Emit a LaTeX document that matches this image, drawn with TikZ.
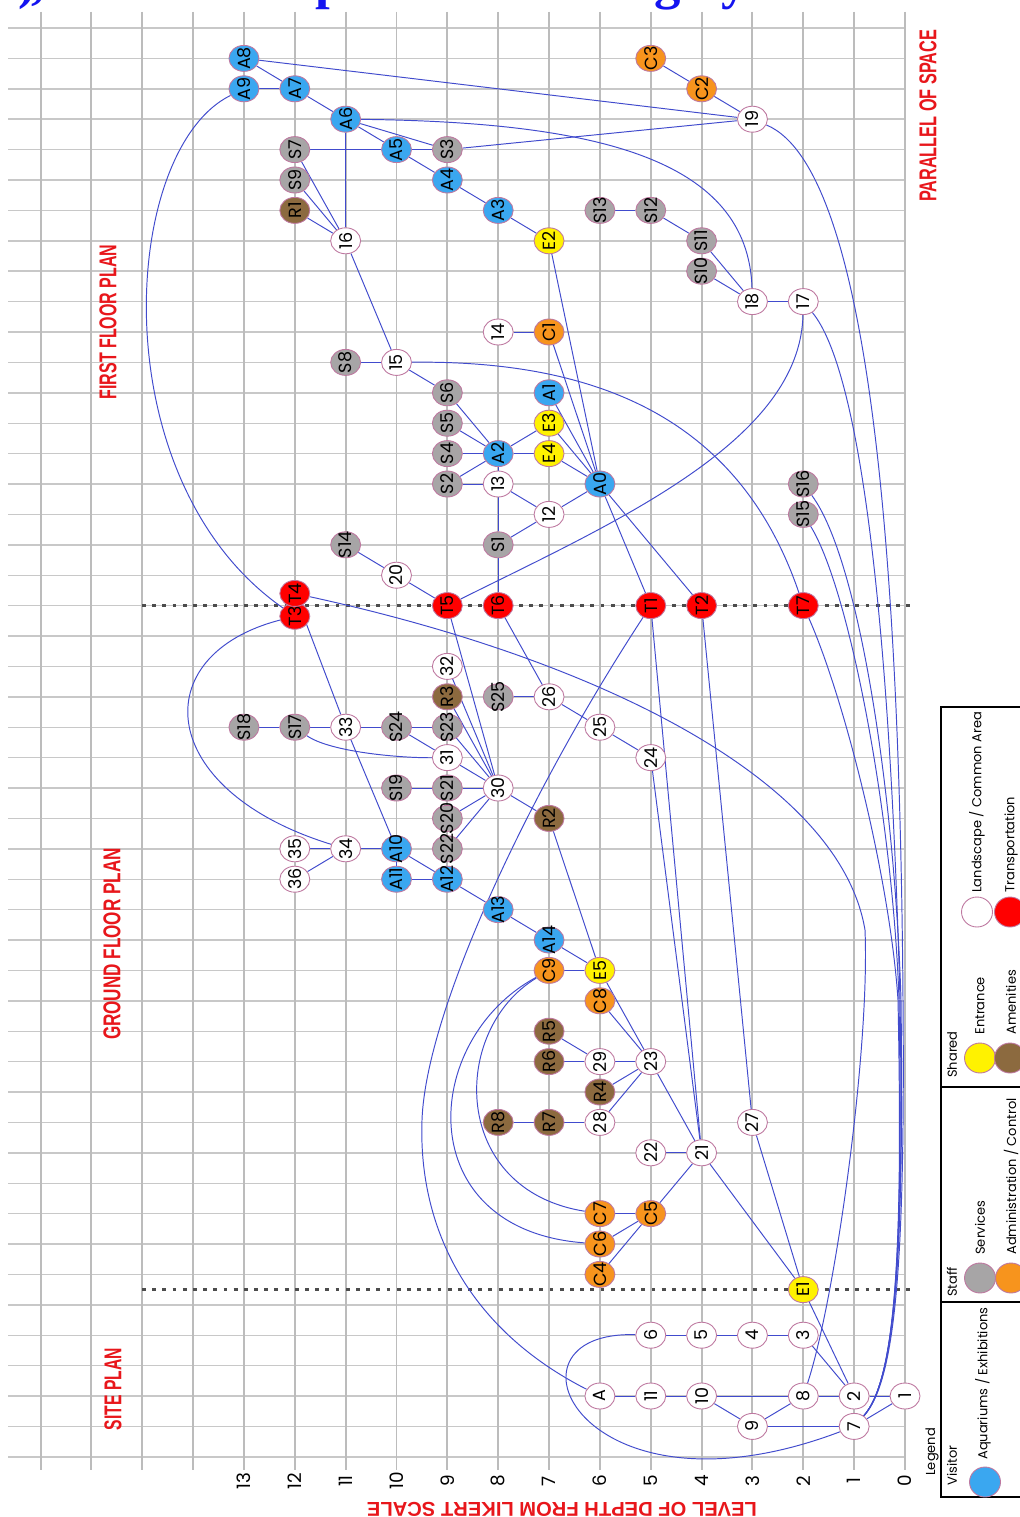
\documentclass[tikz,border=0pt]{standalone}
\usepackage{fontspec}
\usepackage{graphicx}
\setmainfont{Poppins}
\newfontfamily\headfont{Liberation Sans}
\newfontfamily\titlefont{Liberation Serif}
\usetikzlibrary{shapes.geometric}
\definecolor{edgeblue}{RGB}{65,75,205}
\definecolor{cblue}{RGB}{58,167,240}
\definecolor{cgray}{RGB}{167,165,166}
\definecolor{cbrown}{RGB}{140,106,63}
\definecolor{corange}{RGB}{247,148,29}
\definecolor{cyellow}{RGB}{255,242,0}
\definecolor{cred}{RGB}{255,0,0}
\definecolor{ndborder}{RGB}{190,120,160}
\definecolor{gridgray}{RGB}{200,200,200}
\definecolor{vgridgray}{RGB}{188,188,188}
\definecolor{titlered}{RGB}{232,22,27}
\definecolor{titleblue}{RGB}{20,20,240}
\pgfdeclarelayer{gridlayer}
\pgfdeclarelayer{edgelayer}
\pgfsetlayers{gridlayer,edgelayer,main}
\newcommand{\mknode}[5]{\node[#1] (#2) at ({905-50.85*(#3)},{28+30.4*(#4)}) {}; \node[lbl] at (#2) {#5};}
\begin{document}
\begin{tikzpicture}[x=0.02cm,y=-0.02cm,
  nd/.style={ellipse, minimum width=0.6cm, minimum height=0.52cm, inner sep=0pt, draw=ndborder, line width=0.5pt},
  vis/.style={nd, fill=cblue},
  srv/.style={nd, fill=cgray},
  adm/.style={nd, fill=corange},
  ent/.style={nd, fill=cyellow},
  ame/.style={nd, fill=cbrown},
  lnd/.style={nd, fill=white},
  trn/.style={nd, fill=cred},
  lbl/.style={rotate=90, font=\fontsize{10}{10}\selectfont, inner sep=0pt},
  edge/.style={draw=edgeblue, line width=0.55pt},
  hgrid/.style={draw=gridgray, line width=0.8pt},
  vgrid/.style={draw=vgridgray, line width=1.1pt},
  sep/.style={draw=black!70, line width=1.3pt, dash pattern=on 2.2pt off 3.6pt},
  redtitle/.style={rotate=90, text=titlered, inner sep=0pt},
  legtext/.style={rotate=90, anchor=west, font=\fontsize{7.4}{7.4}\selectfont, inner sep=0pt},
  legcirc/.style={ellipse, minimum width=0.62cm, minimum height=0.6cm, inner sep=0pt, draw=ndborder, line width=0.5pt},
  tglyph/.style={anchor=base, text=titleblue, inner sep=0pt, font=\titlefont\bfseries\fontsize{30}{30}\selectfont}
]
\useasboundingbox (0,0) rectangle (1019,1517);
\begin{pgfonlayer}{gridlayer}
\fill[white] (0,0) rectangle (1019,1517);
\foreach \r in {0,...,47} \draw[hgrid] (8,{28+30.4*\r}) -- (905,{28+30.4*\r});
\foreach \l in {0,...,17} \draw[vgrid] ({905-50.85*\l},12) -- ({905-50.85*\l},1470);
\draw[sep] (142,605.6) -- (910,605.6);
\draw[sep] (142,1289.6) -- (910,1289.6);
\end{pgfonlayer}

% ---------- title (only its lowest part lies on the page) ----------
\node[tglyph] (tg1) at (27,-1) {)};
\node[tglyph] (tg2) at (38,-1) {,};
\node[tglyph] (tg3) at (330,-1) {p};
\node[tglyph] (tg4) at (668,-1) {g};
\node[tglyph] (tg5) at (735,-1) {y};

% ---------- nodes ----------
\mknode{vis}{A8}{13}{1}{A8}
\mknode{vis}{A9}{13}{2}{A9}
\mknode{vis}{A7}{12}{2}{A7}
\mknode{vis}{A6}{11}{3}{A6}
\mknode{srv}{S7}{12}{4}{S7}
\mknode{vis}{A5}{10}{4}{A5}
\mknode{srv}{S3}{9}{4}{S3}
\mknode{srv}{S9}{12}{5}{S9}
\mknode{vis}{A4}{9}{5}{A4}
\mknode{ame}{R1}{12}{6}{R1}
\mknode{vis}{A3}{8}{6}{A3}
\mknode{srv}{S13}{6}{6}{S13}
\mknode{srv}{S12}{5}{6}{S12}
\mknode{lnd}{n16}{11}{7}{16}
\mknode{ent}{E2}{7}{7}{E2}
\mknode{srv}{S11}{4}{7}{S11}
\mknode{srv}{S10}{4}{8}{S10}
\mknode{lnd}{n18}{3}{9}{18}
\mknode{lnd}{n17}{2}{9}{17}
\mknode{adm}{C3}{5}{1}{C3}
\mknode{adm}{C2}{4}{2}{C2}
\mknode{lnd}{n19}{3}{3}{19}
\mknode{lnd}{n14}{8}{10}{14}
\mknode{adm}{C1}{7}{10}{C1}
\mknode{srv}{S8}{11}{11}{S8}
\mknode{lnd}{n15}{10}{11}{15}
\mknode{srv}{S6}{9}{12}{S6}
\mknode{vis}{A1}{7}{12}{A1}
\mknode{srv}{S5}{9}{13}{S5}
\mknode{ent}{E3}{7}{13}{E3}
\mknode{srv}{S4}{9}{14}{S4}
\mknode{vis}{A2}{8}{14}{A2}
\mknode{ent}{E4}{7}{14}{E4}
\mknode{srv}{S2}{9}{15}{S2}
\mknode{lnd}{n13}{8}{15}{13}
\mknode{vis}{A0}{6}{15}{A0}
\mknode{srv}{S16}{2}{15}{S16}
\mknode{lnd}{n12}{7}{16}{12}
\mknode{srv}{S15}{2}{16}{S15}
\mknode{srv}{S14}{11}{17}{S14}
\mknode{srv}{S1}{8}{17}{S1}
\mknode{lnd}{n20}{10}{18}{20}
\mknode{trn}{T3}{12}{19.35}{T3}
\mknode{trn}{T4}{12}{18.6}{T4}
\mknode{trn}{T5}{9}{19}{T5}
\mknode{trn}{T6}{8}{19}{T6}
\mknode{trn}{T1}{5}{19}{T1}
\mknode{trn}{T2}{4}{19}{T2}
\mknode{trn}{T7}{2}{19}{T7}
\mknode{lnd}{n32}{9}{21}{32}
\mknode{ame}{R3}{9}{22}{R3}
\mknode{srv}{S25}{8}{22}{S25}
\mknode{lnd}{n26}{7}{22}{26}
\mknode{srv}{S18}{13}{23}{S18}
\mknode{srv}{S17}{12}{23}{S17}
\mknode{lnd}{n33}{11}{23}{33}
\mknode{srv}{S24}{10}{23}{S24}
\mknode{srv}{S23}{9}{23}{S23}
\mknode{lnd}{n25}{6}{23}{25}
\mknode{lnd}{n31}{9}{24}{31}
\mknode{lnd}{n24}{5}{24}{24}
\mknode{srv}{S19}{10}{25}{S19}
\mknode{srv}{S21}{9}{25}{S21}
\mknode{lnd}{n30}{8}{25}{30}
\mknode{srv}{S20}{9}{26}{S20}
\mknode{ame}{R2}{7}{26}{R2}
\mknode{lnd}{n35}{12}{27}{35}
\mknode{lnd}{n34}{11}{27}{34}
\mknode{vis}{A10}{10}{27}{A10}
\mknode{srv}{S22}{9}{27}{S22}
\mknode{lnd}{n36}{12}{28}{36}
\mknode{vis}{A11}{10}{28}{A11}
\mknode{vis}{A12}{9}{28}{A12}
\mknode{vis}{A13}{8}{29}{A13}
\mknode{vis}{A14}{7}{30}{A14}
\mknode{adm}{C9}{7}{31}{C9}
\mknode{ent}{E5}{6}{31}{E5}
\mknode{adm}{C8}{6}{32}{C8}
\mknode{ame}{R5}{7}{33}{R5}
\mknode{ame}{R6}{7}{34}{R6}
\mknode{lnd}{n29}{6}{34}{29}
\mknode{lnd}{n23}{5}{34}{23}
\mknode{ame}{R4}{6}{35}{R4}
\mknode{ame}{R8}{8}{36}{R8}
\mknode{ame}{R7}{7}{36}{R7}
\mknode{lnd}{n28}{6}{36}{28}
\mknode{lnd}{n27}{3}{36}{27}
\mknode{lnd}{n22}{5}{37}{22}
\mknode{lnd}{n21}{4}{37}{21}
\mknode{adm}{C7}{6}{39}{C7}
\mknode{adm}{C5}{5}{39}{C5}
\mknode{adm}{C6}{6}{40}{C6}
\mknode{adm}{C4}{6}{41}{C4}
\mknode{ent}{E1}{2}{41.5}{E1}
\mknode{lnd}{n6}{5}{43}{6}
\mknode{lnd}{n5}{4}{43}{5}
\mknode{lnd}{n4}{3}{43}{4}
\mknode{lnd}{n3}{2}{43}{3}
\mknode{lnd}{nA}{6}{45}{A}
\mknode{lnd}{n11}{5}{45}{11}
\mknode{lnd}{n10}{4}{45}{10}
\mknode{lnd}{n8}{2}{45}{8}
\mknode{lnd}{n2}{1}{45}{2}
\mknode{lnd}{n1}{0}{45}{1}
\mknode{lnd}{n9}{3}{46}{9}
\mknode{lnd}{n7}{1}{46}{7}

% ---------- edges ----------
\begin{pgfonlayer}{edgelayer}
\foreach \a/\b in {A8/A7, A9/A7, A7/A6, A6/A5, A6/S3, A6/n16, S7/A5, A5/S3, A5/A4, A4/A3, A3/E2,
  S7/n16, S9/n16, R1/n16, n16/n15, S13/S12, S12/S11, S11/n18, S10/n18, n18/n17, C3/C2, C2/n19,
  A8/n19, S3/n19, n14/C1, C1/A0, E2/A0, A1/A0, E3/A0, E4/A0, S8/n15, n15/S6, S6/A2, S5/A2, S4/A2,
  S2/A2, E3/A2, A2/E4, S2/n13, A2/n13, n13/S1, S1/T6, n13/n12, S1/n12, n12/A0, S14/n20, n20/T5,
  A0/T1, A0/T2, T4/n33, T5/n30, T6/n26, n32/n30, R3/n30, S23/n30, n31/n30, S21/n30, S20/n30,
  S22/n30, S25/n26, n26/n25, n25/n24, S18/S17, S17/n33, n33/S24, S24/S23, S24/n31, n33/A10,
  S19/S21, n30/R2, R2/E5, n35/n34, n36/n34, n34/A10, A10/A11, A11/A12, A10/A12, A12/A13,
  A13/A14, A14/E5, C9/E5, E5/n23, C8/n23, R5/n29, R6/n29, n29/n23, R4/n23, n28/n23, R8/R7,
  R7/n28, n23/n21, n22/n21, C5/n21, n24/n21, T1/n21, T2/n27, n21/E1, n27/E1, C7/C5, C6/C5,
  C4/C5, E1/n2, n3/n2, n6/n5, n5/n4, n4/n3, nA/n11, n11/n10, n10/n8, n8/n2, n2/n1, n10/n9,
  n9/n8, n9/n7, n1/n7}
  \draw[edge] (\a) -- (\b);
% curves
\draw[edge] (A6) .. controls (600,122) and (748,160) .. (n18);
\draw[edge] (S17) .. controls (330,752) and (400,758) .. (n31);
\draw[edge] (A9) .. controls (120,150) and (100,480) .. (T3);
\draw[edge] (T3) .. controls (145,655) and (155,790) .. (n34);
\draw[edge] (nA) .. controls (470,1330) and (418,1230) .. (422,1120) .. controls (426,1010) and (530,790) .. (T1);
\draw[edge] (n15) .. controls (600,360) and (740,420) .. (T7);
\draw[edge] (T5) .. controls (620,520) and (800,440) .. (n17);
\draw[edge] (n6) .. controls (490,1330) and (580,1530) .. (n7);
\draw[edge] (C9) .. controls (450,1030) and (450,1190) .. (C7);
\draw[edge] (C9) .. controls (420,1040) and (410,1230) .. (C6);
\draw[edge] (T4) .. controls (600,660) and (840,780) .. (865,930) .. controls (870,1050) and (835,1300) .. (n8);
\draw[edge] (n19) .. controls (875,170) and (900,600) .. (903,1000) .. controls (905,1250) and (897,1380) .. (n7);
\draw[edge] (n17) .. controls (860,370) and (890,620) .. (900,1000) .. controls (904,1250) and (896,1380) .. (n7);
\draw[edge] (S16) .. controls (860,560) and (895,800) .. (901,1000) .. controls (904,1250) and (896,1380) .. (n7);
\draw[edge] (S15) .. controls (850,590) and (893,820) .. (899,1000) .. controls (903,1250) and (896,1380) .. (n7);
\draw[edge] (T7) .. controls (845,700) and (890,880) .. (898,1000) .. controls (903,1250) and (896,1380) .. (n7);
\end{pgfonlayer}

% ---------- axis ----------
\foreach \l in {0,...,13} \node[rotate=90, font=\fontsize{10.5}{10.5}\selectfont, inner sep=0pt] at ({905-50.85*\l},1481) {\l};
\node[rotate=180, text=titlered, inner sep=0pt] at (562,1509) {\resizebox{7.8cm}{0.28cm}{\headfont\bfseries LEVEL OF DEPTH FROM LIKERT SCALE}};
\node[redtitle] at (928,116) {\resizebox{3.44cm}{0.34cm}{\headfont\bfseries PARALLEL OF SPACE}};
\node[redtitle] at (108,322) {\resizebox{3.1cm}{0.34cm}{\headfont\bfseries FIRST FLOOR PLAN}};
\node[redtitle] at (112,944) {\resizebox{3.84cm}{0.34cm}{\headfont\bfseries GROUND FLOOR PLAN}};
\node[redtitle] at (113,1389) {\resizebox{1.64cm}{0.34cm}{\headfont\bfseries SITE PLAN}};

% ---------- legend ----------
\draw[black, line width=0.8pt] (1030,707) -- (941,707) -- (941,1497) -- (1030,1497);
\draw[black, line width=0.8pt] (941,1087) -- (1030,1087);
\draw[black, line width=0.8pt] (941,1302) -- (1030,1302);
\node[legtext] at (932,1476) {Legend};
\node[legtext] at (952,1486) {Visitor};
\node[legcirc, fill=cblue] (lgA) at (985,1482) {};
\node[legtext] at (983,1460) {Aquariums / Exhibitions};
\node[legtext] at (952,1297) {Staff};
\node[legcirc, fill=cgray] (lgS) at (980,1278) {};
\node[legtext] at (980,1255) {Services};
\node[legcirc, fill=corange] (lgC) at (1011,1278) {};
\node[legtext] at (1011,1255) {Administration / Control};
\node[legtext] at (952,1078) {Shared};
\node[legcirc, fill=cyellow] (lgE) at (980,1058) {};
\node[legtext] at (980,1035) {Entrance};
\node[legcirc, fill=cbrown] (lgR) at (1010,1058) {};
\node[legtext] at (1011,1035) {Amenities};
\node[legcirc, fill=white] (lgL) at (977,912) {};
\node[legtext] at (977,893) {Landscape / Common Area};
\node[legcirc, fill=cred] (lgT) at (1010,912) {};
\node[legtext] at (1011,893) {Transportation};
\end{tikzpicture}
\end{document}
